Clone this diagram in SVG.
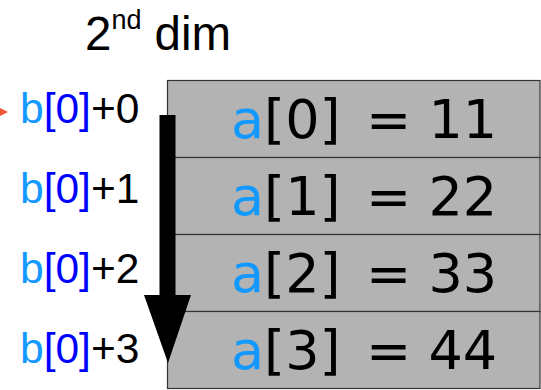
<svg xmlns="http://www.w3.org/2000/svg" width="541" height="390" viewBox="0 0 541 390">
  <style>
    .cell { fill: #b3b3b3; stroke: #333333; stroke-width: 1.2; }
    .val { font-family: "DejaVu Sans", sans-serif; font-size: 54px; fill: #000000; }
    .lbl { font-family: "Liberation Sans", Arial, sans-serif; font-size: 42.5px; fill: #000000; }
    .lb { fill: #1199ff; }
    .br { fill: #0000ff; }
    .title { font-family: "Liberation Sans", Arial, sans-serif; font-size: 47.5px; fill: #000000; }
  </style>
  <rect width="541" height="390" fill="#ffffff"/>
  <text class="title" x="85" y="50">2<tspan font-size="27" dy="-21">nd</tspan><tspan dy="21" dx="13">dim</tspan></text>

  <g id="cell0">
    <rect class="cell" x="167.5" y="80.5" width="372.5" height="77"/>
    <text class="val" x="231" y="138"><tspan class="lb">a</tspan>[0]<tspan x="366">= 11</tspan></text>
  </g>
  <g id="cell1">
    <rect class="cell" x="167.5" y="157.5" width="372.5" height="77"/>
    <text class="val" x="231" y="215"><tspan class="lb">a</tspan>[1]<tspan x="366">= 22</tspan></text>
  </g>
  <g id="cell2">
    <rect class="cell" x="167.5" y="234.5" width="372.5" height="77"/>
    <text class="val" x="231" y="292"><tspan class="lb">a</tspan>[2]<tspan x="366">= 33</tspan></text>
  </g>
  <g id="cell3">
    <rect class="cell" x="167.5" y="311.5" width="372.5" height="77"/>
    <text class="val" x="231" y="369"><tspan class="lb">a</tspan>[3]<tspan x="366">= 44</tspan></text>
  </g>

  <g id="labels">
    <text class="lbl" x="20" y="123"><tspan class="lb">b</tspan><tspan class="br">[0]</tspan>+0</text>
    <text class="lbl" x="20" y="203"><tspan class="lb">b</tspan><tspan class="br">[0]</tspan>+1</text>
    <text class="lbl" x="20" y="283"><tspan class="lb">b</tspan><tspan class="br">[0]</tspan>+2</text>
    <text class="lbl" x="20" y="363"><tspan class="lb">b</tspan><tspan class="br">[0]</tspan>+3</text>
  </g>

  <g id="connectors">
    <polygon points="159.5,115 175.5,115 175.5,295 191,295 168,363 144,295 159.5,295" fill="#000000"/>
    <polygon points="0,108 8,112 0,116" fill="#ee5533"/>
  </g>
</svg>
